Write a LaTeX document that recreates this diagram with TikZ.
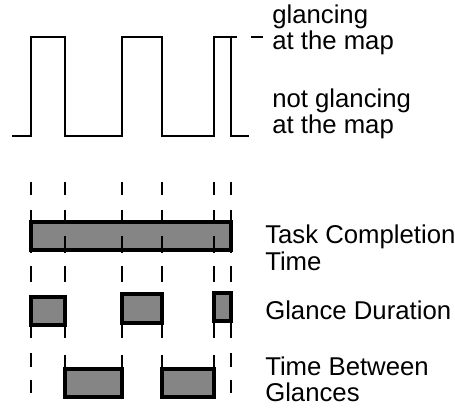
\documentclass[tikz,border=0pt]{standalone}
\usepackage{fontspec}
\setmainfont{Liberation Sans}
\begin{document}
\begin{tikzpicture}[x=0.75pt,y=-0.75pt,
  wave/.style={line width=2.2pt, line join=miter},
  tickmark/.style={line width=2pt},
  barbox/.style={draw=black, line width=2.3pt, fill=black!48},
  lbl/.style={anchor=base west, inner sep=0pt, font=\fontsize{19.3}{22}\selectfont}]
\useasboundingbox (0,0) rectangle (455,420);
% waveform
\draw[wave] (12,136) -- (31,136) -- (31,37) -- (65,37) -- (65,136) -- (122,136) -- (122,37) -- (162,37) -- (162,136) -- (214,136) -- (214,37) -- (237,37);
\draw[wave] (231,37) -- (231,136) -- (249,136);
\draw[tickmark] (251,37) -- (263,37);
% dashed guide ticks
\foreach \x in {31,65,122,162,214,231} {
  \draw[tickmark] (\x,182) -- (\x,195);
  \draw[tickmark] (\x,266) -- (\x,282);
  \draw[tickmark] (\x,210) -- (\x,222);
}
% task completion bar
\draw[barbox] (31,222) rectangle (231,250);
\foreach \x in {65,122,162,214} { \draw[tickmark] (\x,236) -- (\x,253); }
\draw[tickmark] (31,250) -- (31,253);
\draw[tickmark] (231,250) -- (231,253);
% glance duration
\draw[barbox] (31,297) rectangle (65,325);
\draw[barbox] (122,294) rectangle (162,323);
\draw[barbox] (214,293) rectangle (231,321);
\draw[tickmark] (31,325) -- (31,338);
\draw[tickmark] (65,325) -- (65,338);
\draw[tickmark] (122,323) -- (122,338);
\draw[tickmark] (162,323) -- (162,338);
\draw[tickmark] (214,321) -- (214,338);
\draw[tickmark] (231,321) -- (231,338);
% time between glances
\foreach \x in {31,231} {
  \draw[tickmark] (\x,353) -- (\x,367);
  \draw[tickmark] (\x,380) -- (\x,393);
}
\foreach \x in {65,122,162,214} { \draw[tickmark] (\x,355) -- (\x,369); }
\draw[barbox] (65,369) rectangle (122,397);
\draw[barbox] (162,369) rectangle (214,397);
% labels
\node[lbl] (l1) at (272,24) {glancing};
\node[lbl] (l2) at (272,50) {at the map};
\node[lbl] (l3) at (272,108) {not glancing};
\node[lbl] (l4) at (272,134) {at the map};
\node[lbl] (l5) at (265,244) {Task Completion};
\node[lbl] (l6) at (265,271) {Time};
\node[lbl] (l7) at (265,320) {Glance Duration};
\node[lbl] (l8) at (265,376) {Time Between};
\node[lbl] (l9) at (265,402) {Glances};
\end{tikzpicture}
\end{document}
